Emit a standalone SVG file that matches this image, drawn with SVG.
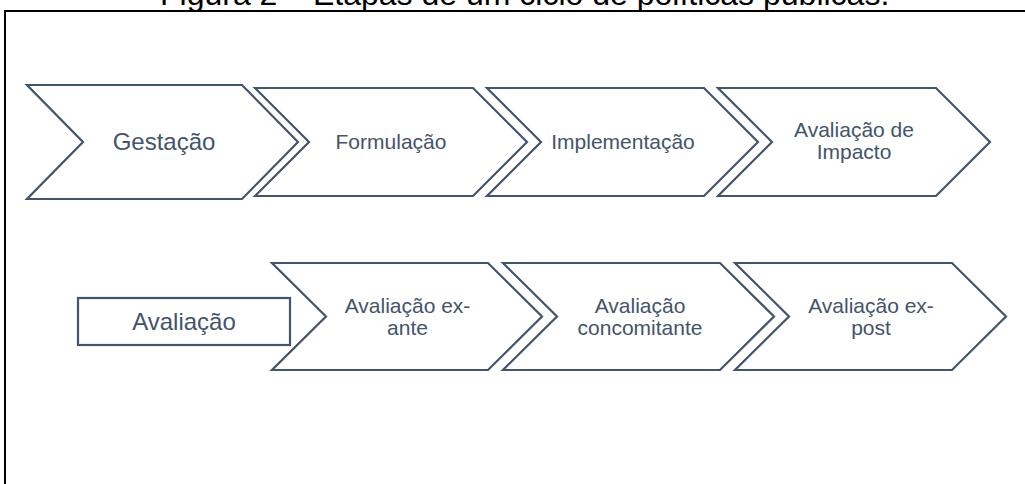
<svg xmlns="http://www.w3.org/2000/svg" width="1025" height="484" viewBox="0 0 1025 484">
<style>
.shape{fill:#ffffff;stroke:#44546A;stroke-width:2.2;stroke-linejoin:miter}
.lbl{font-family:"Liberation Sans",Arial,sans-serif;fill:#44546A;text-anchor:middle}
.big{font-size:24px}
.sm{font-size:21px}
.title{font-family:"Liberation Sans",Arial,sans-serif;font-size:32px;fill:#000000}
</style>
<rect width="1025" height="484" fill="#ffffff"/>
<text class="title" x="160" y="5">Figura 2 – Etapas de um ciclo de políticas públicas.</text>
<path d="M1030 11 H5 V490" fill="none" stroke="#000000" stroke-width="2"/>
<g id="connectors"></g>
<g id="gestacao">
<path class="shape" d="M27 85 L242 85 L298 142 L242 199 L27 199 L83 142 Z"/>
<text class="lbl big" x="164" y="150">Gestação</text>
</g>
<g id="formulacao">
<path class="shape" d="M255 88 L473 88 L527 142 L473 196 L255 196 L309 142 Z"/>
<text class="lbl sm" x="391" y="149">Formulação</text>
</g>
<g id="implementacao">
<path class="shape" d="M487 88 L704 88 L758 142 L704 196 L487 196 L541 142 Z"/>
<text class="lbl sm" x="623" y="149">Implementação</text>
</g>
<g id="avaliacao-impacto">
<path class="shape" d="M718 88 L936 88 L990 142 L936 196 L718 196 L772 142 Z"/>
<text class="lbl sm" x="854" y="137">Avaliação de</text>
<text class="lbl sm" x="854" y="158.5">Impacto</text>
</g>
<g id="avaliacao">
<rect class="shape" x="78" y="298" width="212" height="47"/>
<text class="lbl big" x="184" y="330">Avaliação</text>
</g>
<g id="ex-ante">
<path class="shape" d="M272 263 L488 263 L542 316.5 L488 370 L272 370 L326 316.5 Z"/>
<text class="lbl sm" x="407.5" y="313">Avaliação ex-</text>
<text class="lbl sm" x="407.5" y="334.5">ante</text>
</g>
<g id="concomitante">
<path class="shape" d="M503 263 L720 263 L774 316.5 L720 370 L503 370 L557 316.5 Z"/>
<text class="lbl sm" x="640" y="313">Avaliação</text>
<text class="lbl sm" x="640" y="334.5">concomitante</text>
</g>
<g id="ex-post">
<path class="shape" d="M735 263 L952 263 L1006 316.5 L952 370 L735 370 L789 316.5 Z"/>
<text class="lbl sm" x="871" y="313">Avaliação ex-</text>
<text class="lbl sm" x="871" y="334.5">post</text>
</g>
</svg>
